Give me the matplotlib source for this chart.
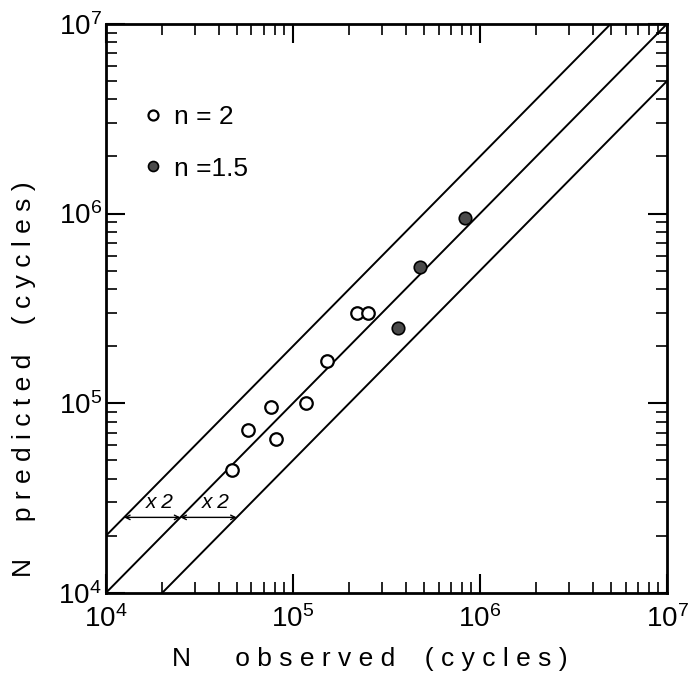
import numpy as np
import matplotlib
matplotlib.use("Agg")
import matplotlib.pyplot as plt
from matplotlib import font_manager


def pick_font(names):
    for name in names:
        try:
            font_manager.findfont(name, fallback_to_default=False)
            return name
        except ValueError:
            pass
    return 'DejaVu Sans'


narrow = pick_font(['Liberation Sans Narrow'])
is_narrow = narrow == 'Liberation Sans Narrow'
if not is_narrow:
    narrow = pick_font(['Liberation Sans'])

plt.rcParams['font.family'] = [narrow, 'DejaVu Sans']
plt.rcParams['mathtext.fontset'] = 'custom'
plt.rcParams['mathtext.rm'] = narrow
plt.rcParams['mathtext.it'] = narrow + ':italic'

# data
n2_obs = [47000, 57300, 76000, 81500, 118000, 152000, 219000, 251000]
n2_pred = [44500, 72300, 95900, 64600, 100700, 167000, 298000, 298000]
n15_obs = [366000, 480000, 832000]
n15_pred = [250000, 525000, 950000]
band_factors = [2.0, 1.0, 0.5]
line_x = [1e4, 1e7]
arrow_y = 2.5e4
tick_vals = [1e4, 1e5, 1e6, 1e7]
tick_labels = ['10$^4$', '10$^5$', '10$^6$', '10$^7$']

tick_fs = 23 if is_narrow else 20
label_fs = 23 if is_narrow else 19

fig = plt.figure(figsize=(6.88, 6.83), dpi=100)
ax = fig.add_axes([0.154, 0.132, 0.8155, 0.833])

for f in band_factors:
    ax.plot(line_x, [v * f for v in line_x], color='black', lw=1.4)

ax.plot(n2_obs, n2_pred, 'o', ls='none', ms=9, mfc='white', mec='black',
        mew=1.6, label='n = 2')
ax.plot(n15_obs, n15_pred, 'o', ls='none', ms=9, mfc='#4a4a4a', mec='black',
        mew=1.2, label='n =1.5')

# x2 arrows between the lines
for f_hi, f_lo in [(2.0, 1.0), (1.0, 0.5)]:
    x0 = arrow_y / f_hi
    x1 = arrow_y / f_lo
    ax.annotate('', xy=(x1, arrow_y), xytext=(x0, arrow_y),
                arrowprops=dict(arrowstyle='<->', color='black', lw=1.0,
                                shrinkA=0, shrinkB=0, mutation_scale=8))
    ax.text(x0 * 1.55, arrow_y * 1.2, 'x 2', fontsize=15,
            style='italic', ha='center', va='center')

ax.set_xscale('log')
ax.set_yscale('log')
ax.set_xlim(1e4, 1e7)
ax.set_ylim(1e4, 1e7)

ax.set_xticks(tick_vals)
ax.set_xticklabels(tick_labels)
ax.set_yticks(tick_vals)
ax.set_yticklabels(tick_labels)
ax.tick_params(which='both', direction='in', top=True, right=True)
ax.tick_params(which='major', length=14, width=1.5, labelsize=tick_fs)
ax.tick_params(axis='x', which='major', pad=9)
ax.tick_params(axis='y', which='major', pad=3)
ax.tick_params(which='minor', length=8, width=1.2)
for sp in ax.spines.values():
    sp.set_linewidth(2)

ax.set_xlabel('N      o b s e r v e d    ( c y c l e s )', fontsize=label_fs,
              labelpad=12)
ax.xaxis.set_label_coords(0.47, -0.095)
ax.set_ylabel('N     p r e d i c t e d    ( c y c l e s )', fontsize=label_fs,
              labelpad=12)
ax.yaxis.set_label_coords(-0.125, 0.375)

leg = ax.legend(loc='upper left', bbox_to_anchor=(0.042, 0.876), frameon=False,
                fontsize=19, markerscale=0.8, handletextpad=0.3,
                labelspacing=1.05, borderaxespad=0, handlelength=1.0)

fig.savefig('out.png', dpi=100)
